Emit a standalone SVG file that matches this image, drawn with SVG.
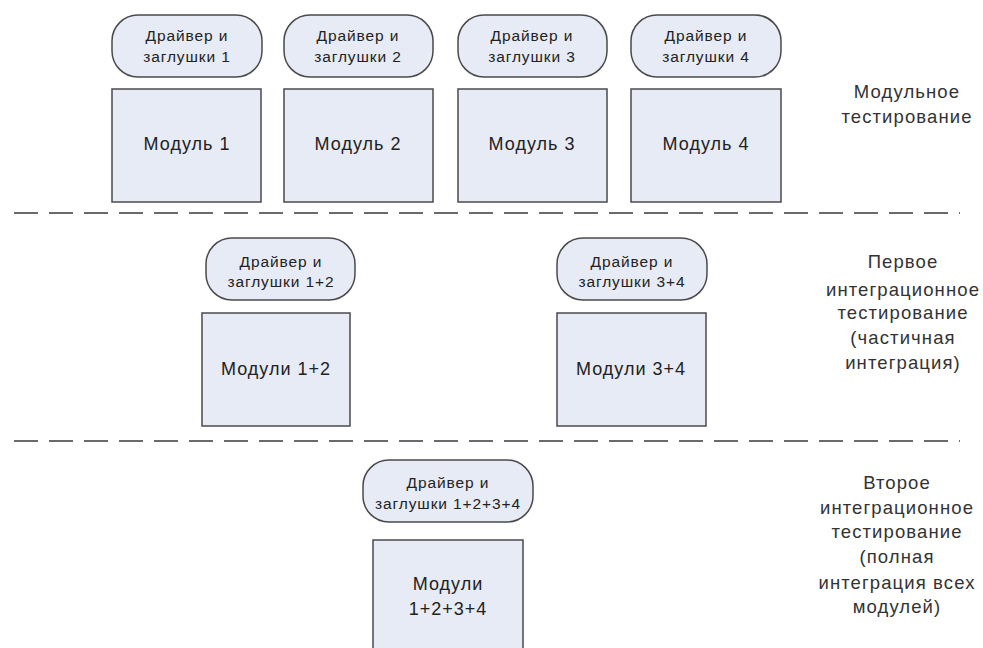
<svg xmlns="http://www.w3.org/2000/svg" width="983" height="648" viewBox="0 0 983 648">
<style>
.pill{fill:#e7ebf5;stroke:#4a4a4a;stroke-width:1.5}
.box{fill:#e7ebf5;stroke:#4a4a4a;stroke-width:1.5}
.t{font-family:"Liberation Sans",Arial,sans-serif;fill:#222;text-anchor:middle}
.s{font-size:15.5px;letter-spacing:0.9px}
.m{font-size:18px;letter-spacing:1px}
.lab{font-family:"Liberation Sans",Arial,sans-serif;fill:#333;text-anchor:middle;font-size:18.5px;letter-spacing:1.1px}
.dash{stroke:#6a6a6a;stroke-width:2;stroke-dasharray:24 11;fill:none}
</style>
<rect width="983" height="648" fill="#fff"/>
<g id="separators">
<line class="dash" x1="14" y1="213" x2="960" y2="213"/>
<line class="dash" x1="14" y1="441" x2="960" y2="441"/>
</g>
<g id="driver1"><rect class="pill" x="112" y="15" width="150" height="62" rx="26"/><text class="t s" x="187" y="41">Драйвер и</text><text class="t s" x="187" y="62">заглушки 1</text></g>
<g id="driver2"><rect class="pill" x="284" y="15" width="149" height="62" rx="26"/><text class="t s" x="358" y="41">Драйвер и</text><text class="t s" x="358" y="62">заглушки 2</text></g>
<g id="driver3"><rect class="pill" x="458" y="15" width="149" height="62" rx="26"/><text class="t s" x="532" y="41">Драйвер и</text><text class="t s" x="532" y="62">заглушки 3</text></g>
<g id="driver4"><rect class="pill" x="631" y="15" width="150" height="62" rx="26"/><text class="t s" x="706" y="41">Драйвер и</text><text class="t s" x="706" y="62">заглушки 4</text></g>
<g id="module1"><rect class="box" x="112" y="89" width="149" height="113"/><text class="t m" x="187" y="150">Модуль 1</text></g>
<g id="module2"><rect class="box" x="284" y="89" width="149" height="113"/><text class="t m" x="358" y="150">Модуль 2</text></g>
<g id="module3"><rect class="box" x="458" y="89" width="149" height="113"/><text class="t m" x="532" y="150">Модуль 3</text></g>
<g id="module4"><rect class="box" x="631" y="89" width="150" height="113"/><text class="t m" x="706" y="150">Модуль 4</text></g>
<g id="driver12"><rect class="pill" x="206" y="238" width="149" height="62" rx="26"/><text class="t s" x="281" y="267">Драйвер и</text><text class="t s" x="281" y="287">заглушки 1+2</text></g>
<g id="driver34"><rect class="pill" x="557" y="238" width="150" height="62" rx="26"/><text class="t s" x="632" y="267">Драйвер и</text><text class="t s" x="632" y="287">заглушки 3+4</text></g>
<g id="module12"><rect class="box" x="202" y="313" width="148" height="113"/><text class="t m" x="276" y="375">Модули 1+2</text></g>
<g id="module34"><rect class="box" x="557" y="313" width="149" height="113"/><text class="t m" x="631" y="375">Модули 3+4</text></g>
<g id="driver1234"><rect class="pill" x="363" y="460" width="170" height="62" rx="26"/><text class="t s" x="448" y="488">Драйвер и</text><text class="t s" x="448" y="509">заглушки 1+2+3+4</text></g>
<g id="module1234"><rect class="box" x="373" y="540" width="150" height="120"/><text class="t m" x="448" y="590">Модули</text><text class="t m" x="448" y="615">1+2+3+4</text></g>
<g id="labels">
<text class="lab" x="907" y="98">Модульное</text>
<text class="lab" x="907" y="123">тестирование</text>
<text class="lab" x="903" y="268">Первое</text>
<text class="lab" x="903" y="296">интеграционное</text>
<text class="lab" x="903" y="319">тестирование</text>
<text class="lab" x="903" y="344">(частичная</text>
<text class="lab" x="903" y="369">интеграция)</text>
<text class="lab" x="897" y="489">Второе</text>
<text class="lab" x="897" y="514">интеграционное</text>
<text class="lab" x="897" y="538">тестирование</text>
<text class="lab" x="897" y="563">(полная</text>
<text class="lab" x="897" y="589">интеграция всех</text>
<text class="lab" x="897" y="613">модулей)</text>
</g>
</svg>
